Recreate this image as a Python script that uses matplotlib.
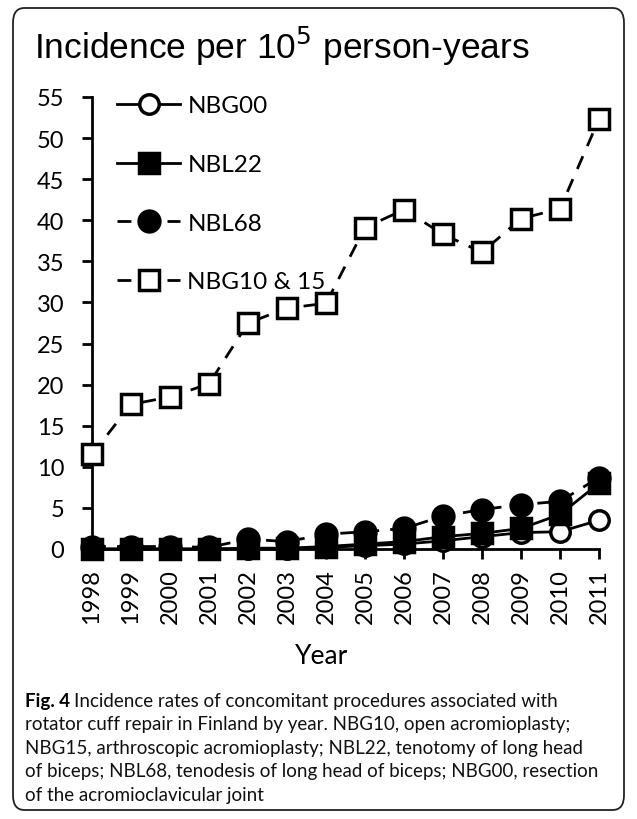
import matplotlib
matplotlib.use("Agg")
import matplotlib.pyplot as plt
from matplotlib.patches import FancyBboxPatch

# data
years = [1998, 1999, 2000, 2001, 2002, 2003, 2004, 2005, 2006, 2007, 2008, 2009, 2010, 2011]
nbg00 = [0.0, 0.0, 0.0, 0.0, 0.0, 0.0, 0.2, 0.4, 0.6, 1.0, 1.5, 2.0, 2.1, 3.5]
nbl22 = [0.0, 0.0, 0.0, 0.0, 0.1, 0.1, 0.3, 0.6, 0.9, 1.5, 1.9, 2.5, 4.2, 8.0]
nbl68 = [0.3, 0.3, 0.3, 0.2, 1.2, 0.9, 1.8, 2.1, 2.5, 4.0, 4.8, 5.4, 5.8, 8.7]
nbg10_15 = [11.5, 17.6, 18.5, 20.1, 27.5, 29.3, 29.9, 39.1, 41.3, 38.3, 36.1, 40.2, 41.4, 52.3]
yticks = [0, 5, 10, 15, 20, 25, 30, 35, 40, 45, 50, 55]

title_str = "Incidence per 10$^5$ person-years"
caption_bold = "Fig. 4"
caption_lines = ["Incidence rates of concomitant procedures associated with",
                 "rotator cuff repair in Finland by year. NBG10, open acromioplasty;",
                 "NBG15, arthroscopic acromioplasty; NBL22, tenotomy of long head",
                 "of biceps; NBL68, tenodesis of long head of biceps; NBG00, resection",
                 "of the acromioclavicular joint"]

W, H = 637, 820
fig = plt.figure(figsize=(W / 100, H / 100), dpi=100)

def fx(px):
  return px / W

def fy(py):
  return 1 - py / H

# rounded frame round everything
frame = FancyBboxPatch((fx(13), fy(811)), fx(611), (811 - 9) / H,
                       boxstyle="round,pad=0,rounding_size=0.018",
                       transform=fig.transFigure, fill=False, lw=1.3, ec="#222222")
fig.patches.append(frame)

ax = fig.add_axes([fx(92), fy(550), fx(599) - fx(92), (550 - 98) / H])

lw = 2.0
ms = 14
mew = 2.5
dash = (0, (5, 4))

ax.plot(years, nbg00, color="black", lw=lw, marker="o", ms=ms, mfc="white", mec="black",
        mew=mew, clip_on=False, zorder=3, label="NBG00")
ax.plot(years, nbl22, color="black", lw=lw, marker="s", ms=ms, mfc="black", mec="black",
        mew=mew, clip_on=False, zorder=4, label="NBL22")
ax.plot(years, nbl68, color="black", lw=lw, ls=dash, marker="o", ms=ms + 1, mfc="black",
        mec="black", mew=mew, clip_on=False, zorder=4, label="NBL68")
ax.plot(years, nbg10_15, color="black", lw=lw, ls=dash, marker="s", ms=ms, mfc="white",
        mec="black", mew=mew, clip_on=False, zorder=5, label="NBG10 & 15")

ax.set_xlim(1998, 2011)
ax.set_ylim(0, 55)
ax.set_yticks(yticks)
ax.set_xticks(years)
ax.set_xticklabels([str(y) for y in years], rotation=90, fontfamily="Lato", fontsize=17)
ax.set_yticklabels([str(v) for v in yticks], fontfamily="Lato", fontsize=17)
for s in ["top", "right"]:
  ax.spines[s].set_visible(False)
for s in ["left", "bottom"]:
  ax.spines[s].set_linewidth(2.0)
ax.tick_params(axis="both", direction="out", length=7, width=2.0)
ax.tick_params(axis="y", pad=13)
ax.tick_params(axis="x", pad=7)
ax.set_xlabel("Year", fontfamily="Lato", fontsize=19)
ax.xaxis.set_label_coords((322 - 92) / (599 - 92), -(657 - 550) / (550 - 98))
ax.xaxis.label.set_va("center")

leg = ax.legend(loc="upper left", bbox_to_anchor=(0.03, 1.025), frameon=False,
                prop={"family": "Lato", "size": 17.5}, handlelength=2.6,
                handletextpad=0.3, labelspacing=1.55, borderaxespad=0)

fig.text(fx(34), fy(59), title_str, fontfamily="Liberation Sans", fontsize=25.5,
         ha="left", va="baseline")

cap_size = 13.5
fig.text(fx(25), fy(707), caption_bold, fontfamily="Lato", fontweight="bold",
         fontsize=cap_size, ha="left", va="baseline")
fig.text(fx(74), fy(707), caption_lines[0], fontfamily="Lato",
         fontsize=cap_size, ha="left", va="baseline", color="#111111")
for i, line in enumerate(caption_lines[1:]):
  fig.text(fx(25), fy(707 + 23.5 * (i + 1)), line, fontfamily="Lato",
           fontsize=cap_size, ha="left", va="baseline", color="#111111")

fig.savefig("out.png", dpi=100)
